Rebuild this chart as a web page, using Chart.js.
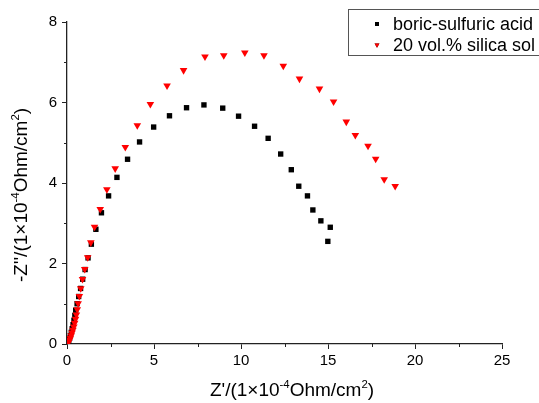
<!DOCTYPE html>
<html>
<head>
<meta charset="utf-8">
<script src="https://cdn.jsdelivr.net/npm/chart.js@4/dist/chart.umd.min.js"></script>
<style>
  html, body { margin: 0; padding: 0; background: #fff; }
</style>
</head>
<body>
<canvas id="nyquist" width="539" height="403"></canvas>
<script>
// Z' and -Z'' values
const acidZre = [0.05, 0.10, 0.15, 0.20, 0.25, 0.30, 0.35, 0.40, 0.45, 0.50, 0.58, 0.67, 0.78, 0.90, 1.04, 1.21, 1.40, 1.66, 1.98, 2.39, 2.87, 3.48, 4.17, 4.98, 5.89, 6.87, 7.87, 8.95, 9.86, 10.78, 11.56, 12.28, 12.89, 13.32, 13.82, 14.13, 14.59, 15.13, 14.99];
const acidZim = [0.03, 0.08, 0.14, 0.21, 0.29, 0.38, 0.48, 0.59, 0.71, 0.84, 1.00, 1.18, 1.38, 1.61, 1.85, 2.14, 2.48, 2.85, 3.26, 3.68, 4.14, 4.59, 5.02, 5.39, 5.67, 5.87, 5.94, 5.86, 5.66, 5.41, 5.11, 4.72, 4.33, 3.92, 3.68, 3.33, 3.06, 2.90, 2.55];

const solZre = [0.06, 0.10, 0.14, 0.19, 0.24, 0.29, 0.34, 0.39, 0.44, 0.49, 0.54, 0.59, 0.64, 0.71, 0.79, 0.89, 1.02, 1.19, 1.37, 1.58, 1.91, 2.29, 2.77, 3.35, 4.04, 4.79, 5.75, 6.70, 7.93, 9.01, 10.22, 11.32, 12.43, 13.36, 14.51, 15.32, 16.05, 16.57, 17.30, 17.74, 18.23, 18.86];
const solZim = [0.03, 0.06, 0.10, 0.15, 0.21, 0.28, 0.35, 0.43, 0.52, 0.62, 0.73, 0.86, 1.01, 1.19, 1.38, 1.61, 1.86, 2.15, 2.52, 2.91, 3.35, 3.84, 4.36, 4.89, 5.43, 5.96, 6.42, 6.80, 7.14, 7.17, 7.24, 7.17, 6.91, 6.59, 6.34, 6.02, 5.52, 5.19, 4.92, 4.60, 4.09, 3.92];

const seriesNames = ["boric-sulfuric acid", "20 vol.% silica sol"];
const xTicks = [0, 5, 10, 15, 20, 25];
const yTicks = [0, 2, 4, 6, 8];
const xMinor = [2.5, 7.5, 12.5, 17.5, 22.5];
const yMinor = [1, 3, 5, 7];

const FONT = "'Liberation Sans', Arial, sans-serif";
const AXIS = "#222";

const toPoints = (xs, ys) => xs.map((x, i) => ({ x: x, y: ys[i] }));

// draws text with superscript pieces, centred on (x, y)
function richText(ctx, parts, x, y, size) {
  let total = 0;
  parts.forEach(p => {
    ctx.font = (p.sup ? size * 0.6 : size) + "px " + FONT;
    p.w = ctx.measureText(p.t).width;
    total += p.w;
  });
  let cx = x - total / 2;
  ctx.textBaseline = "alphabetic";
  ctx.textAlign = "left";
  parts.forEach(p => {
    ctx.font = (p.sup ? size * 0.6 : size) + "px " + FONT;
    ctx.fillText(p.t, cx, p.sup ? y - size * 0.4 : y);
    cx += p.w;
  });
}

const extras = {
  id: "extras",
  afterDraw(chart) {
    const ctx = chart.ctx;
    const xs = chart.scales.x, ys = chart.scales.y;
    ctx.save();

    // minor ticks
    ctx.strokeStyle = AXIS;
    ctx.lineWidth = 1;
    ctx.beginPath();
    xMinor.forEach(v => {
      const px = Math.round(xs.getPixelForValue(v)) + 0.5;
      ctx.moveTo(px, ys.bottom);
      ctx.lineTo(px, ys.bottom + 3);
    });
    yMinor.forEach(v => {
      const py = Math.round(ys.getPixelForValue(v)) + 0.5;
      ctx.moveTo(xs.left, py);
      ctx.lineTo(xs.left - 3, py);
    });
    ctx.stroke();

    // axis titles
    ctx.fillStyle = "#000";
    richText(ctx, [
      { t: "Z'/(1×10" }, { t: "-4", sup: true }, { t: "Ohm/cm" }, { t: "2", sup: true }, { t: ")" }
    ], 292, 396, 19);
    ctx.save();
    ctx.translate(27, 195);
    ctx.rotate(-Math.PI / 2);
    richText(ctx, [
      { t: "-Z''/(1×10" }, { t: "-4", sup: true }, { t: "Ohm/cm" }, { t: "2", sup: true }, { t: ")" }
    ], 0, 0, 19);
    ctx.restore();

    // legend box
    ctx.strokeStyle = "#555";
    ctx.lineWidth = 1;
    ctx.strokeRect(348.5, 9.5, 200, 46);
    const rows = [24, 45];
    chart.data.datasets.forEach((ds, i) => {
      Chart.helpers.drawPoint(ctx, {
        pointStyle: ds.pointStyle,
        radius: 2.8,
        rotation: ds.rotation || 0,
        borderWidth: 0
      }, 377, rows[i]);
      ctx.fillStyle = ds.backgroundColor;
      ctx.fill();
      ctx.fillStyle = "#000";
      ctx.font = "18px " + FONT;
      ctx.textBaseline = "middle";
      ctx.textAlign = "left";
      ctx.fillText(ds.label, 393, rows[i] + 1);
    });
    ctx.restore();
  }
};

new Chart(document.getElementById("nyquist"), {
  type: "scatter",
  data: {
    datasets: [
      {
        label: seriesNames[0],
        data: toPoints(acidZre, acidZim),
        pointStyle: "rect",
        pointRadius: 3.8,
        backgroundColor: "#000",
        borderColor: "#000",
        borderWidth: 0,
        order: 1
      },
      {
        label: seriesNames[1],
        data: toPoints(solZre, solZim),
        pointStyle: "triangle",
        rotation: 180,
        pointRadius: 4.4,
        backgroundColor: "#ff0000",
        borderColor: "#ff0000",
        borderWidth: 0,
        order: 0
      }
    ]
  },
  options: {
    responsive: false,
    animation: false,
    layout: { padding: { top: 22, right: 37, left: 0, bottom: 0 } },
    plugins: {
      legend: { display: false },
      tooltip: { enabled: false }
    },
    scales: {
      x: {
        type: "linear",
        min: 0,
        max: 25,
        afterBuildTicks: s => { s.ticks = xTicks.map(v => ({ value: v })); },
        afterFit: s => { s.height = 59; },
        ticks: { color: "#000", font: { family: FONT, size: 15 }, padding: 3, maxRotation: 0 },
        grid: { drawOnChartArea: false, tickLength: 5, tickColor: AXIS, tickWidth: 1 },
        border: { color: AXIS, width: 1.3 }
      },
      y: {
        type: "linear",
        min: 0,
        max: 8,
        afterBuildTicks: s => { s.ticks = yTicks.map(v => ({ value: v })); },
        afterFit: s => { s.width = 67; },
        ticks: { color: "#000", font: { family: FONT, size: 15 }, padding: 5 },
        grid: { drawOnChartArea: false, tickLength: 5, tickColor: AXIS, tickWidth: 1 },
        border: { color: AXIS, width: 1.3 }
      }
    }
  },
  plugins: [extras]
});
</script>
</body>
</html>
